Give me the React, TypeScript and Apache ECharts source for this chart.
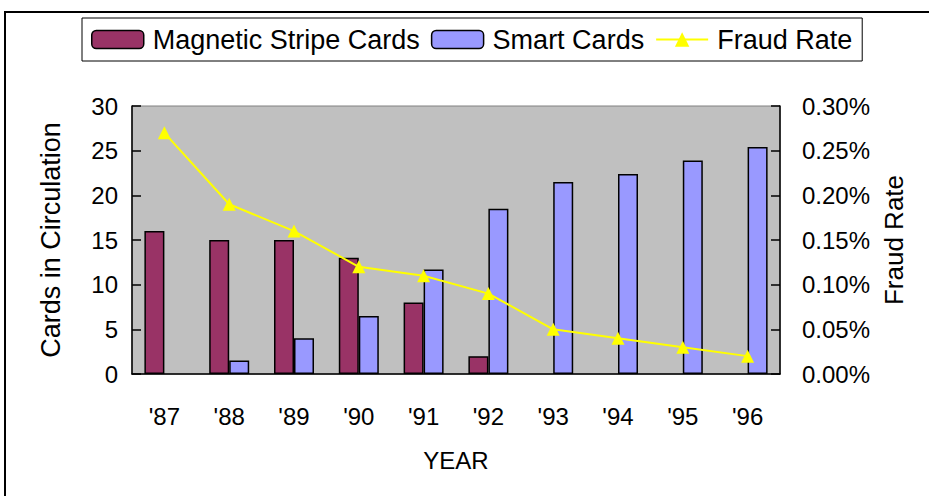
import React, { useEffect, useRef } from "react";
import * as echarts from "echarts";

const years = ["'87", "'88", "'89", "'90", "'91", "'92", "'93", "'94", "'95", "'96"];
const magneticCards = [16, 15, 15, 13, 8, 2, null, null, null, null];
const smartCards = [null, 1.5, 4, 6.5, 11.7, 18.5, 21.5, 22.4, 23.9, 25.4];
const fraudRate = [0.27, 0.19, 0.16, 0.12, 0.11, 0.09, 0.05, 0.04, 0.03, 0.02];

const FONT = "'Liberation Sans', Arial, sans-serif";

export default function App() {
  const ref = useRef<HTMLDivElement>(null);
  useEffect(() => {
    if (!ref.current) return;
    const chart = echarts.init(ref.current, null, { renderer: "svg" });
    chart.setOption({
      animation: false,
      backgroundColor: "#fff",
      textStyle: { fontFamily: FONT, color: "#000" },
      graphic: [
        {
          type: "rect",
          shape: { x: 5, y: 12, width: 960, height: 520 },
          style: { fill: "none", stroke: "#000", lineWidth: 2 },
          z: -1,
        },
      ],
      legend: {
        left: 82,
        top: 18,
        padding: [8, 10, 8, 9],
        itemGap: 11,
        itemWidth: 52,
        itemHeight: 18,
        backgroundColor: "#fff",
        borderColor: "#000",
        borderWidth: 1,
        textStyle: { fontSize: 27, fontFamily: FONT, color: "#000", padding: [0, 0, 0, 4], lineHeight: 26 },
        data: [
          { name: "Magnetic Stripe Cards", itemStyle: { borderColor: "#000", borderWidth: 1.5 } },
          { name: "Smart Cards", itemStyle: { borderColor: "#000", borderWidth: 1.5 } },
          { name: "Fraud Rate" },
        ],
      },
      grid: {
        left: 132,
        right: 149,
        top: 106,
        bottom: 122,
        show: true,
        backgroundColor: "#C0C0C0",
        borderColor: "#808080",
        borderWidth: 1,
      },
      xAxis: {
        type: "category",
        data: years,
        name: "YEAR",
        nameLocation: "middle",
        nameGap: 74,
        nameTextStyle: { fontSize: 24, fontFamily: FONT, color: "#000" },
        axisLine: { lineStyle: { color: "#000", width: 1.5 } },
        axisTick: { inside: true, length: 9, lineStyle: { color: "#000", width: 1.5 } },
        axisLabel: { fontSize: 24, fontFamily: FONT, color: "#000", margin: 30 },
      },
      yAxis: [
        {
          type: "value",
          min: 0,
          max: 30,
          interval: 5,
          name: "Cards in Circulation",
          nameLocation: "middle",
          nameRotate: 90,
          nameGap: 68,
          nameTextStyle: { fontSize: 27, fontFamily: FONT, color: "#000" },
          axisLine: { show: true, lineStyle: { color: "#000", width: 1.5 } },
          axisTick: { show: true, inside: true, length: 9, lineStyle: { color: "#000", width: 1.5 } },
          axisLabel: { fontSize: 24, fontFamily: FONT, color: "#000", margin: 14 },
          splitLine: { show: false },
        },
        {
          type: "value",
          min: 0,
          max: 0.3,
          interval: 0.05,
          position: "right",
          name: "Fraud Rate",
          nameLocation: "middle",
          nameRotate: 90,
          nameGap: 100,
          nameTextStyle: { fontSize: 26, fontFamily: FONT, color: "#000" },
          axisLine: { show: true, lineStyle: { color: "#000", width: 1.5 } },
          axisTick: { show: true, inside: true, length: 9, lineStyle: { color: "#000", width: 1.5 } },
          axisLabel: {
            fontSize: 24,
            fontFamily: FONT,
            color: "#000",
            margin: 22,
            formatter: (v: number) => v.toFixed(2) + "%",
          },
          splitLine: { show: false },
        },
      ],
      series: [
        {
          name: "Magnetic Stripe Cards",
          type: "bar",
          data: magneticCards,
          barWidth: 20,
          barGap: "0%",
          itemStyle: { color: "#993366", borderColor: "#000", borderWidth: 1.5 },
        },
        {
          name: "Smart Cards",
          type: "bar",
          data: smartCards,
          barWidth: 20,
          barGap: "0%",
          itemStyle: { color: "#9999FF", borderColor: "#000", borderWidth: 1.5 },
        },
        {
          name: "Fraud Rate",
          type: "line",
          yAxisIndex: 1,
          data: fraudRate,
          symbol: "triangle",
          symbolSize: 13,
          lineStyle: { color: "#FFFF00", width: 2 },
          itemStyle: { color: "#FFFF00" },
          z: 5,
        },
      ],
    });
    return () => chart.dispose();
  }, []);
  return (
    <div
      ref={ref}
      style={{ position: "fixed", left: 0, top: 0, width: 929, height: 496 }}
    />
  );
}
